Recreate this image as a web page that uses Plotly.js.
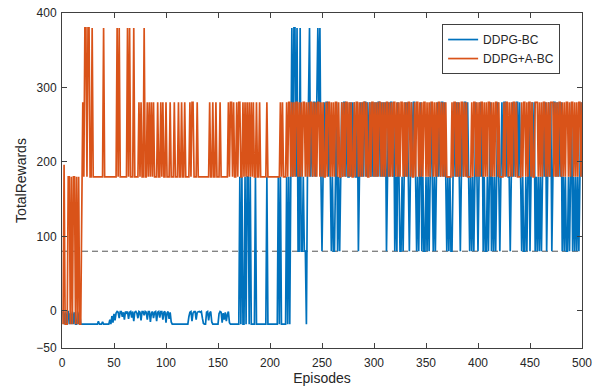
<!DOCTYPE html>
<html>
<head>
<meta charset="utf-8">
<script src="https://cdn.plot.ly/plotly-3.0.1.min.js"></script>
<style>html,body{margin:0;padding:0;background:#fff;}#chart{width:611px;height:392px;}</style>
</head>
<body>
<div id="chart"></div>
<script>
// Episode tick labels
var xTicks = [0, 50, 100, 150, 200, 250, 300, 350, 400, 450, 500];
var yTicks = [-50, 0, 100, 200, 300, 400];
var seriesNames = ["DDPG-BC", "DDPG+A-BC"];
var thresholdX = [0, 500];
var thresholdY = [80, 80];

// DDPG-BC rewards, episodes 1-100
var bcEp1to100 = [-1,-18,-2,-18,-1,-1,-18,-3,-18,-1,-18,-2,-18,-18,-1,-18,-2,
 -18,-18,-18,-18,-18,-18,-18,-18,-18,-18,-18,-18,-18,-18,-18,-18,-18,
 -14,-18,-18,-18,-15,-18,-18,-18,-18,-18,-18,
 -12,-18,-7,-16,-4,-13,-3,-1,-2,-10,
 -1,-1,-8,-2,-12,-1,-3,-1,-11,-2,
 -1,-9,-1,-14,-2,-1,-3,-10,-1,-2,
 -13,-1,-1,-6,-1,-2,-12,-1,-1,-15,
 -3,-1,-10,-2,-1,-14,-2,-1,-9,-1,
 -1,-12,-2,-1,-16];
// episodes 101-200
var bcEp101to200 = [-3,-1,-11,-2,-15,
 -18,-18,-18,-18,-18,-18,-18,-18,-18,-18,-18,-18,-18,-18,-18,-18,
 -8,-2,-1,-14,-3,-1,-1,-12,-2,-1,-1,-2,-1,-10,-17,-18,-18,-2,-1,-13,-3,-1,-15,-18,
 -18,-18,-18,-18,-18,
 -4,-1,-2,-16,-3,-12,-2,-14,-5,-1,-16,
 -18,-18,-18,-18,-18,-18,-18,-18,-18,
 180,-18,180,-18,-18,180,-18,180,180,-18,
 180,-18,-18,-18,-18,180,-18,-18,-18,-18,
 -18,-18,-18,-18,-18,-18,180,-18,-18,-18];
// episodes 201-300
var bcEp201to300 = [-18,-18,-18,-18,-18,-18,-18,180,-18,180,-18,-18,-18,-18,-18,180,-18,180,-18,
 180,380,180,380,380,180,380,80,80,380,80,80,180,80,80,-18,180,280,380,180,280,180,280,280,180,280,380,280,380,180,80,
 180,280,180,280,280,180,280,180,80,180,
 80,80,180,280,80,180,80,180,280,180,
 280,280,180,280,180,180,280,180,280,180,
 280,180,180,280,80,180,280,180,280,180,
 280,280,180,280,180,280,180,280,180,280];
// episodes 301-400
var bcEp301to400 = [180,280,180,280,280,180,280,180,280,180,
 280,80,180,280,180,280,280,180,280,80,
 180,80,280,180,80,80,180,80,180,280,
 180,280,180,80,180,280,180,280,280,180,
 80,180,80,180,280,80,180,80,80,180,
 80,180,80,180,280,180,80,180,80,180,
 280,180,280,180,280,280,180,280,180,80,
 180,80,180,80,80,180,280,180,280,180,
 280,180,80,180,280,180,280,280,180,280,
 180,80,180,80,180,80,180,280,180,80];
// episodes 401-500
var bcEp401to500 = [180,280,180,280,80,180,80,80,180,80,
 180,280,80,180,80,180,80,180,280,180,
 80,180,280,180,280,280,180,280,180,180,
 80,180,280,180,280,180,280,280,180,280,
 180,80,180,80,80,180,80,180,280,80,
 180,280,180,280,80,180,80,180,80,180,
 80,180,280,180,280,80,180,280,180,280,
 80,180,280,280,180,280,180,280,180,280,
 80,180,80,180,80,80,180,80,180,280,
 80,180,80,180,80,180,80,180,280,180];

// DDPG+A-BC rewards, episodes 1-100
var abcEp1to100 = [-18,196,-18,-18,-18,180,180,-18,180,-18,
 180,180,-18,180,-18,180,-18,-18,180,280,
 180,380,380,180,380,380,180,180,380,180,
 180,180,180,180,180,180,180,180,180,380,
 180,180,180,180,180,180,180,180,180,180,
 180,180,380,180,380,180,180,180,180,180,
 180,180,380,180,380,180,180,180,380,180,
 180,180,180,280,180,280,180,180,380,180,
 180,280,180,280,180,280,180,280,180,180,
 180,280,180,180,280,180,280,180,180,280];
// episodes 101-200
var abcEp101to200 = [180,180,180,280,180,180,180,280,180,180,
 180,280,180,180,280,180,180,280,180,180,
 180,180,280,180,280,280,180,180,180,280,
 180,180,180,180,180,180,180,180,180,180,
 180,280,180,180,280,180,180,280,180,180,
 180,280,180,180,180,180,180,180,180,280,
 180,280,280,180,280,180,180,280,180,280,
 280,180,180,280,180,280,180,280,180,280,
 180,280,180,280,180,180,280,180,180,280,
 180,180,180,180,180,180,280,180,180,180];
// episodes 201-300
var abcEp201to300 = [180,180,180,180,180,180,180,180,180,
 280,180,280,180,180,180,280,180,280,280,180,
 280,180,280,180,280,280,180,280,180,280,180,280,280,180,280,180,280,180,280,280,180,280,180,280,180,
 280,280,180,280,180,280,180,180,280,180,
 280,280,180,280,180,280,180,280,280,180,
 280,180,180,280,180,280,180,280,280,180,
 280,180,280,180,180,280,180,280,280,180,
 280,180,280,180,280,280,180,280,180,180,
 280,180,280,280,180];
// episodes 301-400
var abcEp301to400 = [280,180,280,180,280,280,180,280,180,280,
 180,280,280,180,280,180,280,180,280,280,
 180,280,180,280,180,280,280,180,280,180,
 280,180,280,280,180,280,180,180,280,180,
 280,280,180,280,180,280,180,280,280,180,
 280,180,280,180,280,280,180,280,180,280,
 180,280,280,180,280,180,280,180,280,180,
 180,180,180,180,280,180,280,280,180,280,
 180,280,180,280,280,180,280,180,280,180,
 180,180,180,280,180,280,280,180,280,180];
// episodes 401-500
var abcEp401to500 = [280,180,280,280,180,280,180,280,180,280,
 280,180,280,180,280,180,280,280,180,280,
 180,180,180,180,280,180,280,280,180,280,
 180,280,180,280,280,180,280,180,180,180,
 180,280,180,280,280,180,280,180,280,280,
 180,280,180,180,280,280,280,180,280,180,
 280,180,280,280,180,280,180,280,180,280,
 280,280,180,280,180,280,180,280,280,180,
 280,180,280,180,280,280,180,280,180,280,
 280,180,280,180,280,180,280,280,180,280];

var bcRewards = [].concat(bcEp1to100, bcEp101to200, bcEp201to300, bcEp301to400, bcEp401to500);
var abcRewards = [].concat(abcEp1to100, abcEp101to200, abcEp201to300, abcEp301to400, abcEp401to500);
var episodes = [];
for (var i = 0; i < bcRewards.length; i++) episodes.push(i + 1);

var font = "Liberation Sans, Arial, Helvetica, sans-serif";
var traces = [
  {x: thresholdX, y: thresholdY, mode: "lines", showlegend: false, hoverinfo: "skip",
   line: {color: "#555555", width: 1, dash: "6px,4px"}},
  {x: episodes, y: bcRewards, mode: "lines", name: seriesNames[0],
   line: {color: "#0072BD", width: 1.7}},
  {x: episodes, y: abcRewards, mode: "lines", name: seriesNames[1],
   line: {color: "#D95319", width: 1.7}}
];
var axisCommon = {showgrid: false, zeroline: false, showline: true, mirror: "ticks",
  linecolor: "#404040", linewidth: 1, ticks: "inside", ticklen: 5, tickcolor: "#404040",
  tickfont: {family: font, size: 12, color: "#262626"}};
var layout = {
  width: 611, height: 392,
  margin: {l: 62, r: 29, t: 13, b: 44},
  paper_bgcolor: "#ffffff", plot_bgcolor: "#ffffff",
  font: {family: font, color: "#262626"},
  xaxis: Object.assign({}, axisCommon, {range: [0, 500], tickvals: xTicks, ticklabelstandoff: 4,
    title: {text: "Episodes", font: {family: font, size: 14, color: "#262626"}, standoff: 2}}),
  yaxis: Object.assign({}, axisCommon, {range: [-50, 400], tickvals: yTicks, ticklabelstandoff: 2,
    title: {text: "TotalRewards", font: {family: font, size: 14, color: "#262626"}, standoff: 6}}),
  legend: {x: 0.731, y: 0.967, xanchor: "left", yanchor: "top", bgcolor: "#ffffff",
    bordercolor: "#404040", borderwidth: 1, font: {family: font, size: 12, color: "#262626"},
    itemwidth: 30, tracegroupgap: 0},
  showlegend: true
};
Plotly.newPlot("chart", traces, layout, {displayModeBar: false, staticPlot: true});
</script>
</body>
</html>
